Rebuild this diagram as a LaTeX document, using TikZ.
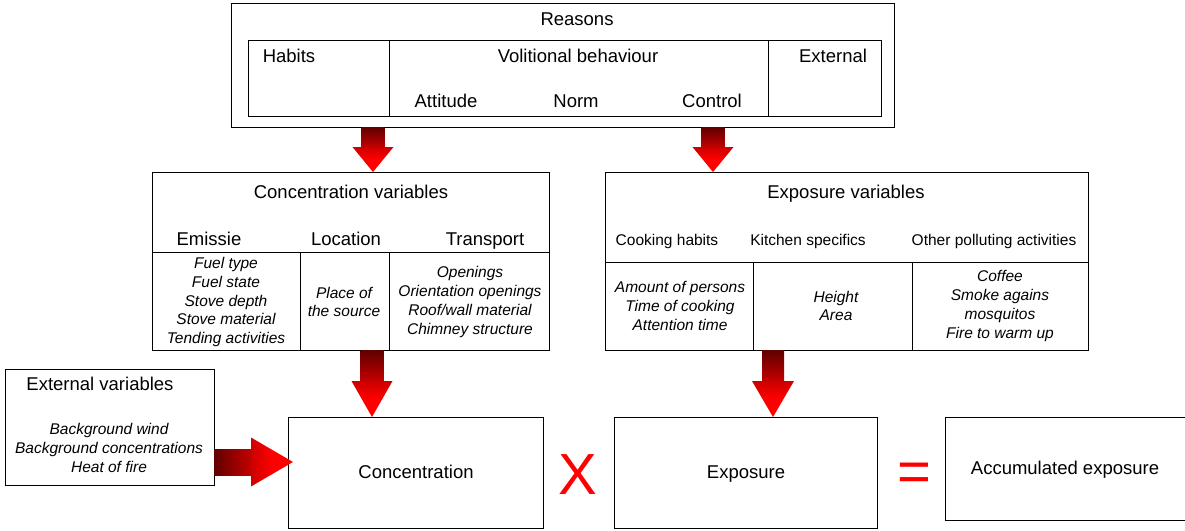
\documentclass[tikz,border=0pt]{standalone}
\usepackage{fontspec}
\setmainfont{Liberation Sans}
\usetikzlibrary{calc}
\definecolor{shaftA}{RGB}{96,0,0}
\definecolor{shaftB}{RGB}{196,0,0}
\definecolor{headA}{RGB}{204,0,0}
\newcommand{\fatdown}[5]{%
  \shade[top color=shaftA, bottom color=shaftB] ($(#1)+(-#3,0)$) rectangle ($(#2)+(#3,-#5)$);
  \shade[top color=headA, bottom color=red, middle color=red] ($(#2)+(-#4,-#5)$) -- ($(#2)+(#4,-#5)$) -- (#2) -- cycle;
}
\begin{document}
\begin{tikzpicture}[x=1pt,y=-1pt,
  box/.style={draw, line width=1pt, outer sep=0pt, inner sep=0pt, anchor=north west},
  sep/.style={line width=1pt},
  lbl/.style={font=\fontsize{18.5}{22}\selectfont, inner sep=0pt, text height=13.3pt, text depth=0pt},
  sub/.style={font=\fontsize{15.5}{19}\selectfont, inner sep=0pt, text height=11.2pt, text depth=0pt},
  itl/.style={font=\fontsize{15.5}{18.7}\selectfont\itshape, align=center, inner sep=0pt},
  big/.style={font=\fontsize{58}{60}\selectfont, text=red, inner sep=0pt, text height=41.5pt, text depth=0pt}]
\clip (0,0) rectangle (1185,530);
\fill[white] (0,0) rectangle (1185,530);

% ---------- Reasons ----------
\node[box, minimum width=663, minimum height=124] (reasons) at (231,3) {};
\node[box, minimum width=633, minimum height=76] (inner) at (248,40) {};
\draw[sep] (389,40) -- (389,116);
\draw[sep] (768,40) -- (768,116);
\node[lbl] (treasons) at (577,19) {Reasons};
\node[lbl] (thabits) at (289,56) {Habits};
\node[lbl] (tvol) at (578,56) {Volitional behaviour};
\node[lbl] (text) at (833,56) {External};
\node[lbl] (tatt) at (446,101) {Attitude};
\node[lbl] (tnorm) at (576,101) {Norm};
\node[lbl] (tcontrol) at (712,101) {Control};

% ---------- Concentration variables ----------
\node[box, minimum width=397, minimum height=178] (cvar) at (152,172) {};
\draw[sep] (152,252) -- (549,252);
\draw[sep] (300,252) -- (300,350);
\draw[sep] (389,252) -- (389,350);
\node[lbl] (tcvar) at (351,192) {Concentration variables};
\node[lbl] (temis) at (209,239) {Emissie};
\node[lbl] (tloc) at (346,239) {Location};
\node[lbl] (ttrans) at (485,239) {Transport};
\node[itl] (iemis) at (226,302) {Fuel type\\Fuel state\\Stove depth\\Stove material\\Tending activities};
\node[itl] (iloc) at (344,302) {Place of\\the source};
\node[itl] (itrans) at (470,302) {Openings\\Orientation openings\\Roof/wall material\\Chimney structure};

% ---------- Exposure variables ----------
\node[box, minimum width=483, minimum height=178] (evar) at (605,172) {};
\draw[sep] (605,262) -- (1088,262);
\draw[sep] (753,262) -- (753,350);
\draw[sep] (912,262) -- (912,350);
\node[lbl] (tevar) at (846,192) {Exposure variables};
\node[sub] (tcook) at (667,240) {Cooking habits};
\node[sub] (tkitch) at (808,240) {Kitchen specifics};
\node[sub] (tother) at (994,240) {Other polluting activities};
\node[itl] (icook) at (680,306) {Amount of persons\\Time of cooking\\Attention time};
\node[itl] (ikitch) at (836,306) {Height\\Area};
\node[itl] (iother) at (1000,306) {Coffee\\Smoke agains\\mosquitos\\Fire to warm up};

% ---------- External variables ----------
\node[box, minimum width=209, minimum height=116] (xvar) at (5,369) {};
\node[lbl] (txvar) at (100,384) {External variables};
\node[itl] (ixvar) at (109,448) {Background wind\\Background concentrations\\Heat of fire};

% ---------- Bottom row ----------
\node[box, minimum width=255, minimum height=111] (conc) at (288,417) {};
\node[lbl] (tconc) at (416,472) {Concentration};
\node[big] (times) at (578,474) {X};
\node[box, minimum width=263, minimum height=111] (expo) at (614,417) {};
\node[lbl] (texpo) at (746,472) {Exposure};
\node[big] (equals) at (914,471) {=};
\node[box, minimum width=250, minimum height=103] (accu) at (945,417) {};
\node[lbl] (taccu) at (1065,468) {Accumulated exposure};

% ---------- Arrows ----------
\path (reasons.south west) ++(142,0) coordinate (a1s);
\path (cvar.north west) ++(221,0) coordinate (a1e);
\fatdown{a1s}{a1e}{11.5}{20.5}{25}
\path (reasons.south west) ++(482,0) coordinate (a2s);
\path (evar.north west) ++(108,0) coordinate (a2e);
\fatdown{a2s}{a2e}{11.5}{20.5}{25}
\path (cvar.south west) ++(220,0) coordinate (a3s);
\path (conc.north west) ++(84,0) coordinate (a3e);
\fatdown{a3s}{a3e}{11.5}{20.5}{36}
\path (evar.south west) ++(168,0) coordinate (a4s);
\path (expo.north west) ++(159,0) coordinate (a4e);
\fatdown{a4s}{a4e}{11}{21}{36}
% horizontal arrow
\path (xvar.north east) ++(0,93) coordinate (a5s);
\path (conc.north west) ++(5,45) coordinate (a5e);
\shade[left color=shaftA, right color=shaftB] ($(a5s)+(0,-13)$) rectangle ($(a5e)+(-42,13)$);
\shade[left color=headA, right color=red, middle color=red] ($(a5e)+(-42,-24.5)$) -- ($(a5e)+(-42,24.5)$) -- (a5e) -- cycle;
\end{tikzpicture}
\end{document}
